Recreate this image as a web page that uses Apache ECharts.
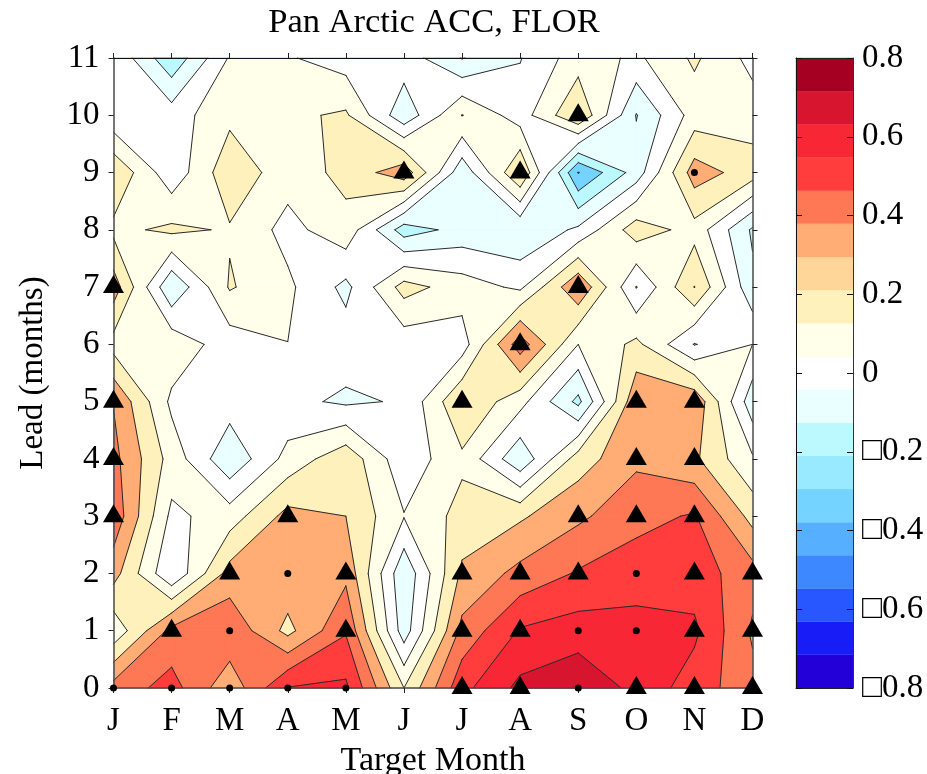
<!DOCTYPE html>
<html><head><meta charset="utf-8">
<style>html,body{margin:0;padding:0;background:#fff}#c{width:927px;height:774px}</style>
<script src="https://cdn.jsdelivr.net/npm/echarts@6/dist/echarts.min.js"></script>
</head><body><div id="c"></div>
<script>
const months=["J","F","M","A","M","J","J","A","S","O","N","D"];
const chartTitle="Pan Arctic ACC, FLOR";
// anomaly correlation at each lead (rows) and target month (columns)
const lead0 =[.44,.54,.33,.605,.62,.2,.57,.726,.785,.67,.552,.434];
const lead1 =[.128,.43,.48,.27,.49,-.054,.43,.61,.646,.637,.62,.385];
const lead2 =[.34,.01,.34,.37,.375,-.08,.32,.43,.51,.552,.55,.44];
const lead3 =[.47,.075,.15,.333,.3,.105,.235,.285,.38,.468,.51,.265];
const lead4 =[.43,.16,-.08,.135,.27,.03,.18,-.08,.25,.38,.318,.113];
const lead5 =[.395,.078,.05,.026,-.017,.01,.295,.135,-.127,.38,.38,-.063];
const lead6 =[.16,.17,.045,.099,.05,.037,.05,.456,.1,.225,-.005,.1];
const lead7 =[.353,-.09,.21,.12,-.027,.24,.15,.08,.39,-.004,.302,-.075];
const lead8 =[.174,.221,.19,.066,.165,-.15,-.065,-.09,.02,.254,.163,-.115];
const lead9 =[.29,.03,.27,.143,.23,.365,-.07,.3,-.304,-.055,.35,.25];
const lead10=[.02,.05,.175,.18,.215,-.07,.203,.05,.295,-.105,.145,.15];
const lead11=[.086,-.177,.11,.11,.05,.055,-.105,-.005,.153,.08,.217,.068];
const values=[lead0,lead1,lead2,lead3,lead4,lead5,lead6,lead7,lead8,lead9,lead10,lead11];
const levels=[-.8,-.7,-.6,-.5,-.4,-.3,-.2,-.1,0,.1,.2,.3,.4,.5,.6,.7,.8];
const colors=["#2400d8","#181cf7","#2857ff","#3d87ff","#56b0ff","#75d3ff","#99eaff","#bcf9ff","#eaffff","#ffffff",
 "#ffffea","#fff1bc","#ffd699","#ffac75","#ff7856","#ff3d3d","#f72735","#d8152f","#a50021"];
const cbLabels=["\u25A10.8","\u25A10.6","\u25A10.4","\u25A10.2","0","0.2","0.4","0.6","0.8"];
const triangles=[[0,7],[0,5],[0,4],[0,3],[1,1],[2,2],[3,3],[4,2],[4,1],[5,9],[6,5],[6,2],[6,1],[6,0],
 [7,9],[7,6],[7,2],[7,1],[7,0],[8,10],[8,7],[8,3],[8,2],[9,5],[9,4],[9,3],[9,0],
 [10,5],[10,4],[10,3],[10,2],[10,1],[10,0],[11,2],[11,1],[11,0]];
const dots=[[0,0],[1,0],[2,0],[3,0],[4,0],[2,1],[3,2],[8,1],[9,1],[9,2],[8,0],[10,9]];
// saddle cells [column,row,level] that the reference joins through the high side
const joinedSaddles=[[1,3,.1]];

const FONT='"Liberation Serif","Times New Roman",serif';
function bandColor(lo){return colors[Math.floor((lo+.8)/1.6*19+1e-9)];}
function cellCorners(i,j){return [[i,j,values[j][i]],[i+1,j,values[j][i+1]],[i+1,j+1,values[j+1][i+1]],[i,j+1,values[j+1][i]]];}
function cross(a,b,lev){const t=(lev-a[2])/(b[2]-a[2]);return [a[0]+t*(b[0]-a[0]),a[1]+t*(b[1]-a[1])];}
function joinsHigh(q,lev){
  const mean=(q[0][2]+q[1][2]+q[2][2]+q[3][2])/4;
  return mean>=lev||joinedSaddles.some(s=>s[0]===q[0][0]&&s[1]===q[0][1]&&Math.abs(s[2]-lev)<1e-6);
}
function regionsAbove(q,lev){
  const up=q.map(c=>c[2]>=lev);
  const saddle=up[0]===up[2]&&up[1]===up[3]&&up[0]!==up[1];
  if(saddle&&!joinsHigh(q,lev)){
    const res=[];
    for(let k=0;k<4;k++)if(up[k]){
      const p=q[(k+3)%4],n=q[(k+1)%4];
      res.push([cross(p,q[k],lev),[q[k][0],q[k][1]],cross(q[k],n,lev)]);
    }
    return res;
  }
  const out=[];
  for(let k=0;k<4;k++){
    const a=q[k],b=q[(k+1)%4];
    if(up[k])out.push([a[0],a[1]]);
    if(up[k]!==up[(k+1)%4])out.push(cross(a,b,lev));
  }
  return out.length>=3?[out]:[];
}
const cells=[];
for(let j=0;j<11;j++)for(let i=0;i<11;i++)cells.push([i,j]);
// fills are painted level by level over the whole field, so higher bands cover seams
const fillItems=[];
levels.slice(0,-1).forEach((lv,b)=>cells.forEach(c=>fillItems.push([c[0],c[1],b])));

function renderFill(params,api){
  const i=api.value(0),j=api.value(1),b=api.value(2),ch=[],q=cellCorners(i,j);
  const c=bandColor(levels[b]);
  for(const p of regionsAbove(q,levels[b]))
    ch.push({type:'polygon',shape:{points:p.map(r=>api.coord(r))},style:{fill:c,stroke:c,lineWidth:.7},silent:true});
  return {type:'group',children:ch};
}
function renderLines(params,api){
  const i=api.value(0),j=api.value(1),ch=[],q=cellCorners(i,j);
  const seg=(a,b)=>ch.push({type:'line',shape:{x1:a[0],y1:a[1],x2:b[0],y2:b[1]},style:{stroke:'#2a2a2a',lineWidth:1,lineCap:'round'},silent:true});
  for(const lev of levels){
    const pts=[];
    for(let k=0;k<4;k++){
      const a=q[k],b=q[(k+1)%4];
      if((a[2]>=lev)!==(b[2]>=lev))pts.push(api.coord(cross(a,b,lev)));
    }
    if(pts.length===2)seg(pts[0],pts[1]);
    else if(pts.length===4){
      if((q[0][2]>=lev)===joinsHigh(q,lev)){seg(pts[0],pts[1]);seg(pts[2],pts[3]);}
      else{seg(pts[3],pts[0]);seg(pts[1],pts[2]);}
    }
  }
  return {type:'group',children:ch};
}
function renderBar(params,api){
  const k=api.value(0),h=1.6/19;
  const lo=-.8+k*h;
  const a=api.coord([0,lo+h]),b=api.coord([1,lo]);
  return {type:'rect',shape:{x:a[0],y:a[1],width:b[0]-a[0],height:b[1]-a[1]},style:{fill:colors[k],stroke:colors[k],lineWidth:.3},silent:true};
}
const edge={lineStyle:{color:'#4a4a4a',width:1.5}};
const tick={show:true,length:5,inside:false,lineStyle:{color:'#222',width:1}};
const label={fontFamily:FONT,fontSize:33,color:'#000'};
const chart=echarts.init(document.getElementById('c'),null,{renderer:'canvas'});
chart.setOption({
  animation:false,
  backgroundColor:'#fff',
  title:{text:chartTitle,left:429,top:0,textAlign:'center',textStyle:{fontFamily:FONT,fontSize:34.5,fontWeight:'normal',color:'#000'}},
  grid:[{left:113.5,top:58,width:639,height:630,outerBoundsMode:'none'},{left:796,top:58,width:57,height:630,outerBoundsMode:'none'}],
  xAxis:[
   {gridIndex:0,type:'value',min:0,max:11,interval:1,position:'bottom',z:5,splitLine:{show:false},
    axisLine:{onZero:false,...edge},axisTick:tick,
    axisLabel:{...label,margin:17,formatter:v=>months[v]},
    name:'Target Month',nameLocation:'middle',nameGap:56,nameTextStyle:{fontFamily:FONT,fontSize:34,color:'#000'}},
   {gridIndex:0,type:'value',min:0,max:11,interval:1,position:'top',z:5,splitLine:{show:false},
    axisLine:{onZero:false,lineStyle:{color:'#111',width:1}},axisTick:tick,axisLabel:{show:false}},
   {gridIndex:1,type:'value',min:0,max:1,position:'bottom',z:5,show:true,splitLine:{show:false},
    axisLine:{onZero:false,lineStyle:{color:'#222',width:1}},axisTick:{show:false},axisLabel:{show:false}},
   {gridIndex:1,type:'value',min:0,max:1,position:'top',z:5,show:true,splitLine:{show:false},
    axisLine:{onZero:false,lineStyle:{color:'#222',width:1}},axisTick:{show:false},axisLabel:{show:false}}
  ],
  yAxis:[
   {gridIndex:0,type:'value',min:0,max:11,interval:1,position:'left',z:5,splitLine:{show:false},
    axisLine:{onZero:false,...edge},axisTick:tick,
    axisLabel:{...label,margin:14,padding:[11,0,0,0]},
    name:'Lead (months)',nameLocation:'middle',nameGap:64,nameTextStyle:{fontFamily:FONT,fontSize:33,color:'#000'}},
   {gridIndex:0,type:'value',min:0,max:11,interval:1,position:'right',z:5,splitLine:{show:false},
    axisLine:{onZero:false,...edge},axisTick:tick,axisLabel:{show:false}},
   {gridIndex:1,type:'value',min:-.8,max:.8,interval:.2,position:'right',z:5,splitLine:{show:false},
    axisLine:{onZero:false,lineStyle:{color:'#333',width:1}},
    axisTick:{show:true,inside:true,length:6,lineStyle:{color:'#111',width:1}},
    axisLabel:{...label,margin:9,padding:[11,0,0,0],showMinLabel:true,showMaxLabel:true,formatter:v=>cbLabels[Math.round((v+.8)/.2)]}},
   {gridIndex:1,type:'value',min:-.8,max:.8,interval:.2,position:'left',z:5,splitLine:{show:false},
    axisLine:{onZero:false,lineStyle:{color:'#111',width:1}},
    axisTick:{show:true,inside:true,length:6,lineStyle:{color:'#111',width:1}},axisLabel:{show:false}}
  ],
  series:[
   {type:'custom',xAxisIndex:0,yAxisIndex:0,data:fillItems,renderItem:renderFill,z:2,silent:true,encode:{x:0,y:1},clip:false},
   {type:'custom',xAxisIndex:0,yAxisIndex:0,data:cells,renderItem:renderLines,z:3,silent:true,encode:{x:0,y:1},clip:false},
   {type:'scatter',xAxisIndex:0,yAxisIndex:0,data:triangles,symbol:'triangle',symbolSize:[21,18],symbolOffset:[0,-3],itemStyle:{color:'#000',opacity:1},z:6,silent:true},
   {type:'scatter',xAxisIndex:0,yAxisIndex:0,data:dots,symbol:'circle',symbolSize:7,itemStyle:{color:'#000',opacity:1},z:6,silent:true},
   {type:'custom',xAxisIndex:2,yAxisIndex:2,data:colors.map((c,k)=>[k]),renderItem:renderBar,z:2,silent:true,encode:{y:0},clip:false}
  ]
});
</script></body></html>
